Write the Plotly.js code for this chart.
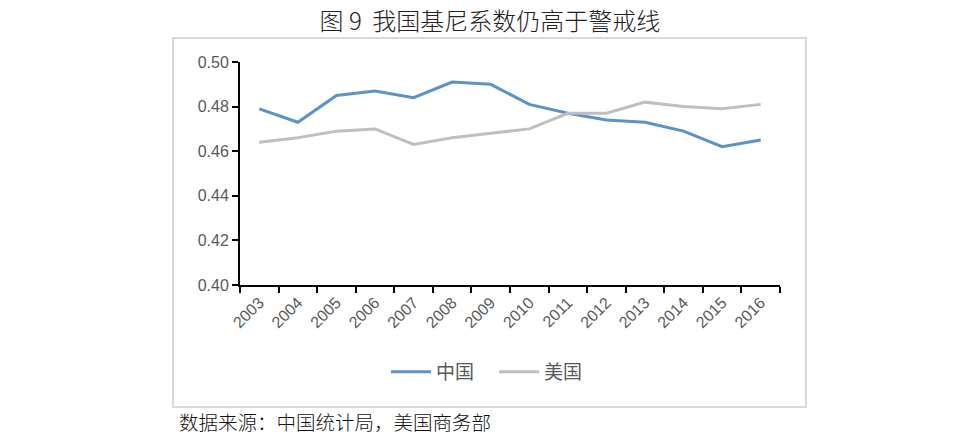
<!DOCTYPE html>
<html>
<head>
<meta charset="utf-8">
<script src="https://cdn.plot.ly/plotly-3.0.1.min.js"></script>
<style>html,body{margin:0;padding:0;background:#fff;}#chart{width:980px;height:439px;}</style>
</head>
<body>
<div id="chart"></div>
<script>
const years = ['2003','2004','2005','2006','2007','2008','2009','2010','2011','2012','2013','2014','2015','2016'];
const china = [0.479,0.473,0.485,0.487,0.484,0.491,0.490,0.481,0.477,0.474,0.473,0.469,0.462,0.465];
const usa   = [0.464,0.466,0.469,0.470,0.463,0.466,0.468,0.470,0.477,0.477,0.482,0.480,0.479,0.481];
const seriesNames = ['中国','美国'];
const titleText = '图 9  我国基尼系数仍高于警戒线';
const sourceText = '数据来源：中国统计局，美国商务部';

const W = 980, H = 439;
const L = 240, R = 200, T = 62, B = 154;
const pw = W - L - R, ph = H - T - B;
const px = x => (x - L) / pw;
const py = y => (H - B - y) / ph;

const traces = [
  {x: years, y: china, name: seriesNames[0], type: 'scatter', mode: 'lines',
   line: {color: '#5b93c7', width: 3}},
  {x: years, y: usa, name: seriesNames[1], type: 'scatter', mode: 'lines',
   line: {color: '#bfbfbf', width: 3}}
];

const tickFont = {family: 'Liberation Sans, Arial, sans-serif', size: 16, color: '#595959'};

const layout = {
  width: W, height: H,
  margin: {l: L, r: R, t: T, b: B},
  paper_bgcolor: '#fff', plot_bgcolor: '#fff',
  showlegend: true,
  title: {text: titleText, x: 0.5, xanchor: 'center', y: 1 - 22 / H, yanchor: 'middle',
          font: {family: 'Noto Sans CJK SC, sans-serif', size: 24, color: '#222', weight: 300}},
  xaxis: {type: 'category', tickson: 'boundaries', ticks: 'outside', ticklen: 6, tickwidth: 2,
          tickcolor: '#000', showline: true, linecolor: '#000', linewidth: 2,
          showgrid: false, zeroline: false, tickangle: -45, tickfont: tickFont,
          range: [-0.5, 13.5], fixedrange: true},
  yaxis: {range: [0.40, 0.50], dtick: 0.02, tickformat: '.2f', ticks: 'outside', ticklen: 6,
          tickwidth: 2, tickcolor: '#000', showline: true, linecolor: '#000', linewidth: 2,
          showgrid: false, zeroline: false, tickfont: tickFont, fixedrange: true},
  legend: {orientation: 'h', x: px(494), xanchor: 'center', y: py(372), yanchor: 'middle',
           font: {family: 'Noto Sans CJK SC, sans-serif', size: 19, color: '#595959'},
           itemwidth: 40, entrywidth: 53, entrywidthmode: 'pixels', bgcolor: 'rgba(0,0,0,0)'},
  shapes: [
    {type: 'rect', xref: 'paper', yref: 'paper', x0: px(173), x1: px(806), y0: py(407), y1: py(38),
     line: {color: '#d9d9d9', width: 2}, fillcolor: 'rgba(0,0,0,0)', layer: 'below'}
  ],
  annotations: [
    {text: sourceText, xref: 'paper', yref: 'paper', x: px(177), y: py(421), xanchor: 'left',
     yanchor: 'middle', showarrow: false,
     font: {family: 'Noto Sans CJK SC, sans-serif', size: 19.5, color: '#111', weight: 300}}
  ]
};

Plotly.newPlot('chart', traces, layout, {displayModeBar: false, staticPlot: true});
</script>
</body>
</html>
